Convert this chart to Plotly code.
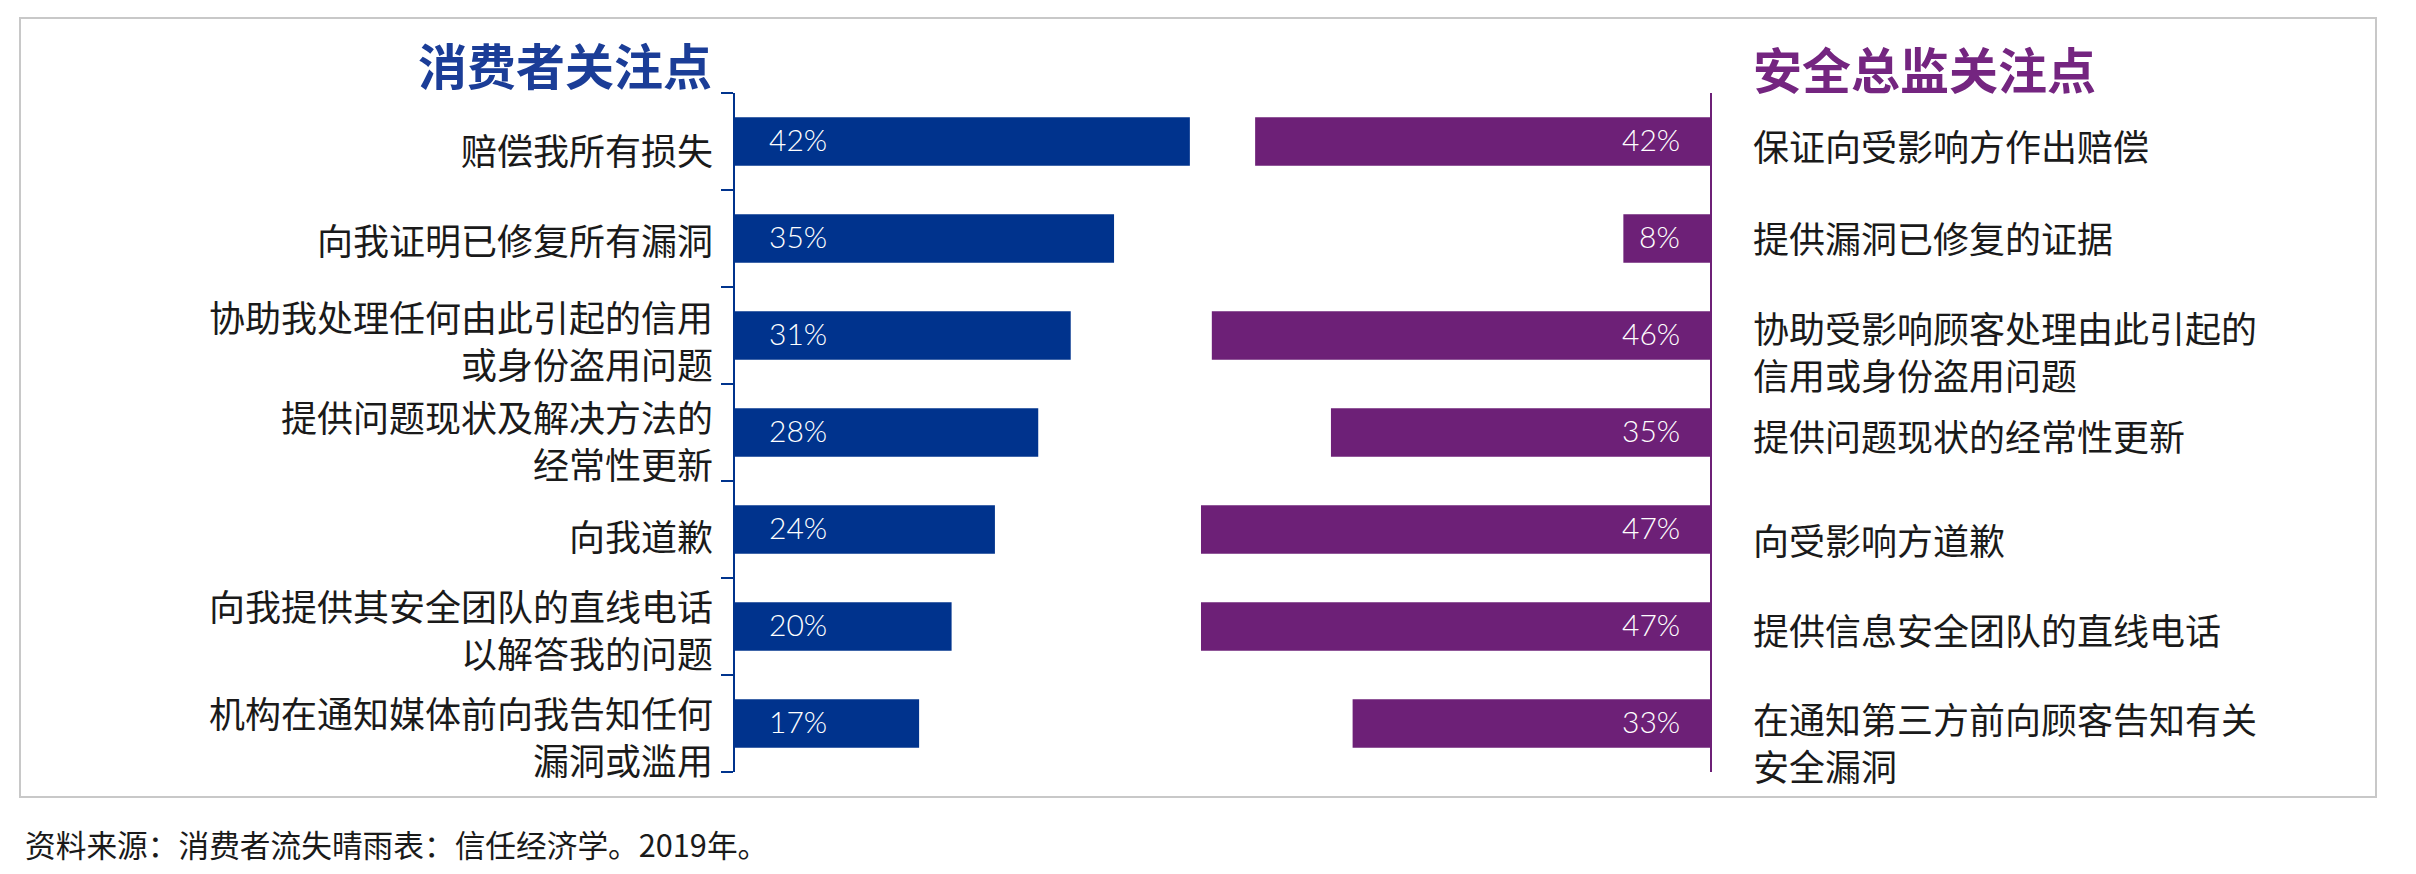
import plotly.graph_objects as go

# ---------------- data ----------------
consumer_labels = [
    "赔偿我所有损失",
    "向我证明已修复所有漏洞",
    "协助我处理任何由此引起的信用<br>或身份盗用问题",
    "提供问题现状及解决方法的<br>经常性更新",
    "向我道歉",
    "向我提供其安全团队的直线电话<br>以解答我的问题",
    "机构在通知媒体前向我告知任何<br>漏洞或滥用",
]
consumer_values = [42, 35, 31, 28, 24, 20, 17]

ciso_labels = [
    "保证向受影响方作出赔偿",
    "提供漏洞已修复的证据",
    "协助受影响顾客处理由此引起的<br>信用或身份盗用问题",
    "提供问题现状的经常性更新",
    "向受影响方道歉",
    "提供信息安全团队的直线电话",
    "在通知第三方前向顾客告知有关<br>安全漏洞",
]
ciso_values = [42, 8, 46, 35, 47, 47, 33]

title_left = "消费者关注点"
title_right = "安全总监关注点"
source_note = "资料来源：消费者流失晴雨表：信任经济学。2019年。"

# ---------------- styling ----------------
W, H = 2416, 874
BLUE = "#00338D"
PURPLE = "#6D2077"
TITLE_BLUE = "#1B3D97"
TITLE_PURPLE = "#742580"
TEXT = "#1a1a1a"
CJK = "Noto Sans CJK SC"
NUM = "Lato, Noto Sans, sans-serif"

PX_PER_PCT = 10.83
AX_L, AX_R, SPLIT = 735, 1710, 1198
Y_TOP, Y_BOT = 93, 772

# vertical nudges (px, downward) of the category label blocks, as in the original layout
left_label_nudge = [7.5, 0.5, 3.5, 6.5, 5, 1.5, 12]
right_label_nudge = [3, -1.5, 15, 2, 9.5, 2, 18]


def px(x):
    return x / W


def py(y):
    return 1 - y / H


fig = go.Figure()

fig.add_trace(go.Bar(
    x=consumer_values, y=list(range(len(consumer_values))), orientation="h",
    marker=dict(color=BLUE, line=dict(width=0)), width=0.5,
    xaxis="x", yaxis="y", hoverinfo="x", showlegend=False,
))
fig.add_trace(go.Bar(
    x=ciso_values, y=list(range(len(ciso_values))), orientation="h",
    marker=dict(color=PURPLE, line=dict(width=0)), width=0.5,
    xaxis="x2", yaxis="y2", hoverinfo="x", showlegend=False,
))

annotations = []
for i, v in enumerate(consumer_values):
    annotations.append(dict(
        x=0, y=i, xref="x", yref="y", text=f"{v}%", showarrow=False,
        xanchor="left", yanchor="middle", xshift=32, yshift=3,
        font=dict(family=NUM, size=30, color="white", weight=300),
    ))
for i, v in enumerate(ciso_values):
    annotations.append(dict(
        x=0, y=i, xref="x2", yref="y2", text=f"{v}%", showarrow=False,
        xanchor="right", yanchor="middle", xshift=-28, yshift=3,
        font=dict(family=NUM, size=30, color="white", weight=300),
    ))

for i, lab in enumerate(consumer_labels):
    annotations.append(dict(
        x=0, y=i, xref="x", yref="y", text=lab, showarrow=False,
        xanchor="right", yanchor="middle", align="right",
        xshift=-20, yshift=-left_label_nudge[i],
        font=dict(family=CJK, size=36, color=TEXT),
    ))
for i, lab in enumerate(ciso_labels):
    annotations.append(dict(
        x=0, y=i, xref="x2", yref="y2", text=lab, showarrow=False,
        xanchor="left", yanchor="middle", align="left",
        xshift=41, yshift=-right_label_nudge[i],
        font=dict(family=CJK, size=36, color=TEXT),
    ))

annotations += [
    dict(x=px(714), y=py(63), xref="paper", yref="paper", text=title_left,
         showarrow=False, xanchor="right", yanchor="middle",
         font=dict(family=CJK, size=49, color=TITLE_BLUE, weight="bold")),
    dict(x=px(1751), y=py(68), xref="paper", yref="paper", text=title_right,
         showarrow=False, xanchor="left", yanchor="middle",
         font=dict(family=CJK, size=49, color=TITLE_PURPLE, weight="bold")),
    dict(x=px(23), y=py(843), xref="paper", yref="paper", text=source_note,
         showarrow=False, xanchor="left", yanchor="middle",
         font=dict(family=CJK, size=30.7, color=TEXT)),
]

shapes = [dict(
    type="rect", xref="paper", yref="paper",
    x0=px(20), x1=px(2376), y0=py(797), y1=py(18),
    line=dict(color="#c8c8c8", width=2), fillcolor="rgba(0,0,0,0)", layer="below",
)]

ydom = [py(Y_BOT), py(Y_TOP)]
n = len(consumer_labels)

fig.update_layout(
    width=W, height=H,
    margin=dict(l=0, r=0, t=0, b=0, pad=0),
    paper_bgcolor="white", plot_bgcolor="white",
    font=dict(family=CJK, color=TEXT),
    xaxis=dict(domain=[px(AX_L), px(SPLIT)],
               range=[0, (SPLIT - AX_L) / PX_PER_PCT],
               visible=False, fixedrange=True),
    xaxis2=dict(domain=[px(SPLIT), px(AX_R)],
                range=[(AX_R - SPLIT) / PX_PER_PCT, 0],
                visible=False, fixedrange=True),
    yaxis=dict(domain=ydom, anchor="x",
               range=[n - 0.5, -0.5],
               showline=True, linecolor=BLUE, linewidth=2,
               ticks="outside", tickmode="array",
               tickvals=[k - 0.5 for k in range(n + 1)],
               ticklen=12, tickcolor=BLUE, tickwidth=2,
               showticklabels=False,
               showgrid=False, zeroline=False, fixedrange=True),
    yaxis2=dict(domain=ydom, anchor="x2", side="right",
                range=[n - 0.5, -0.5],
                showline=True, linecolor=PURPLE, linewidth=2,
                ticks="", showticklabels=False,
                showgrid=False, zeroline=False, fixedrange=True),
    annotations=annotations,
    shapes=shapes,
)

fig.write_html("out.html")
